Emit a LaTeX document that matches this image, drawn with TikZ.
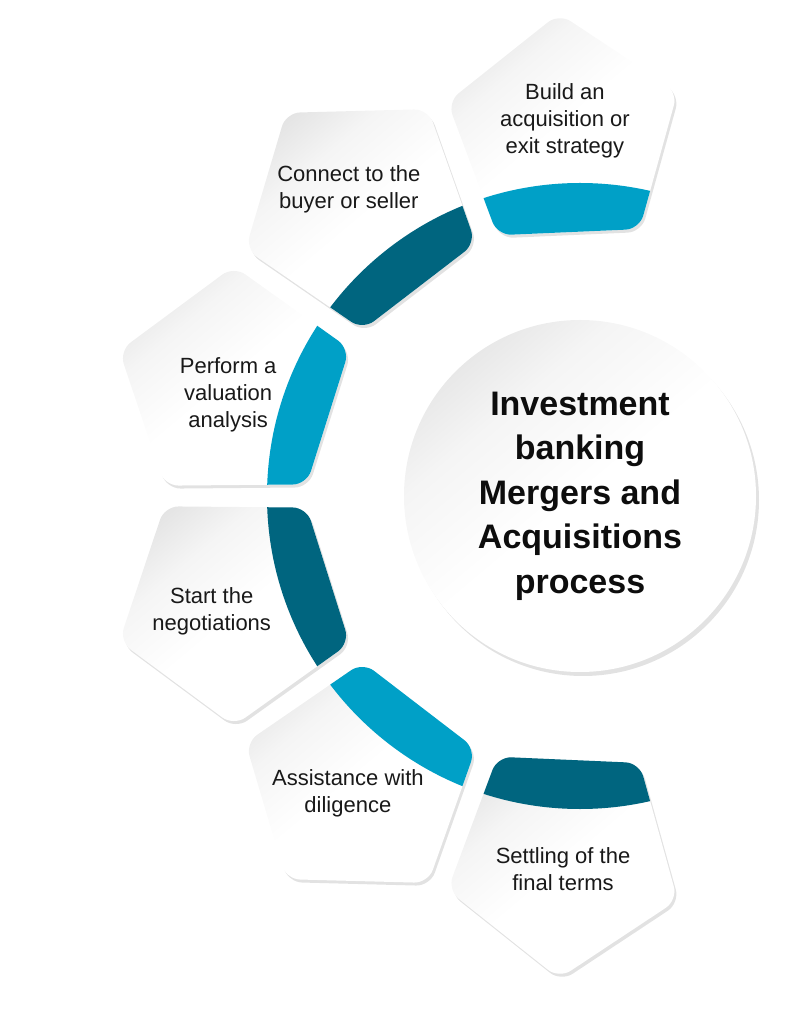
\documentclass[tikz,border=0pt]{standalone}
\usepackage{fontspec}
\setmainfont{Liberation Sans}
\usepackage{tikz}
\usepackage{xcolor}
\usetikzlibrary{shapes.geometric}
\usetikzlibrary{shadows}
\definecolor{bandlight}{RGB}{0,160,199}
\definecolor{banddark}{RGB}{0,101,127}
\pgfdeclareverticalshading{stagefade}{100bp}{color(0bp)=(white); color(50bp)=(white); color(66bp)=(black!4); color(84bp)=(black!14); color(100bp)=(black!17)}
\tikzstyle{stage} = [regular polygon, regular polygon sides=5, minimum size=242pt, inner sep=0pt, outer sep=0pt, rounded corners=14pt, shading=stagefade, shading angle=40, drop shadow={shadow xshift=2pt, shadow yshift=-3pt, opacity=0.25, fill=black!45}]
\tikzstyle{lightband} = [path picture={\fill[bandlight] (hub) circle (313pt);}]
\tikzstyle{darkband} = [path picture={\fill[banddark] (hub) circle (313pt);}]
\tikzstyle{stagetext} = [align=center, text=black!90, font=\fontsize{22}{27}\selectfont]
\tikzstyle{hubcircle} = [circle, minimum size=352pt, inner sep=0pt, shading=stagefade, shading angle=40, drop shadow={shadow xshift=3pt, shadow yshift=-4pt, opacity=0.25, fill=black!45}, align=center, text=black!95, font=\fontsize{34}{44.5}\selectfont\bfseries]

\begin{document}
\begin{tikzpicture}[x=1pt, y=1pt]
        \useasboundingbox (-580,-518) rectangle (220,496);
        \node (hub) [hubcircle] at (0,0) {Investment\\banking\\Mergers and\\Acquisitions\\process};

        \node (buildStrategy) [stage, lightband, regular polygon rotate=2.5] at (92.5:362) {};
        \node (connectParties) [stage, darkband, regular polygon rotate=37.5] at (127.5:362) {};
        \node (valuation) [stage, lightband, regular polygon rotate=72.5] at (162.5:362) {};
        \node (negotiations) [stage, darkband, regular polygon rotate=107.5] at (197.5:362) {};
        \node (diligence) [stage, lightband, regular polygon rotate=142.5] at (232.5:362) {};
        \node (finalTerms) [stage, darkband, regular polygon rotate=177.5] at (267.5:362) {};

        \node (buildText) [stagetext] at (92.3:376) {Build an\\acquisition or\\exit strategy};
        \node (connectText) [stagetext] at (127:384) {Connect to the\\buyer or seller};
        \node (valuationText) [stagetext] at (164:366) {Perform a\\valuation\\analysis};
        \node (negotiationsText) [stagetext] at (197.4:386) {Start the\\negotiations};
        \node (diligenceText) [stagetext] at (232:377) {Assistance with\\diligence};
        \node (finalText) [stagetext] at (267.4:374) {Settling of the\\final terms};
    \end{tikzpicture}
\end{document}
